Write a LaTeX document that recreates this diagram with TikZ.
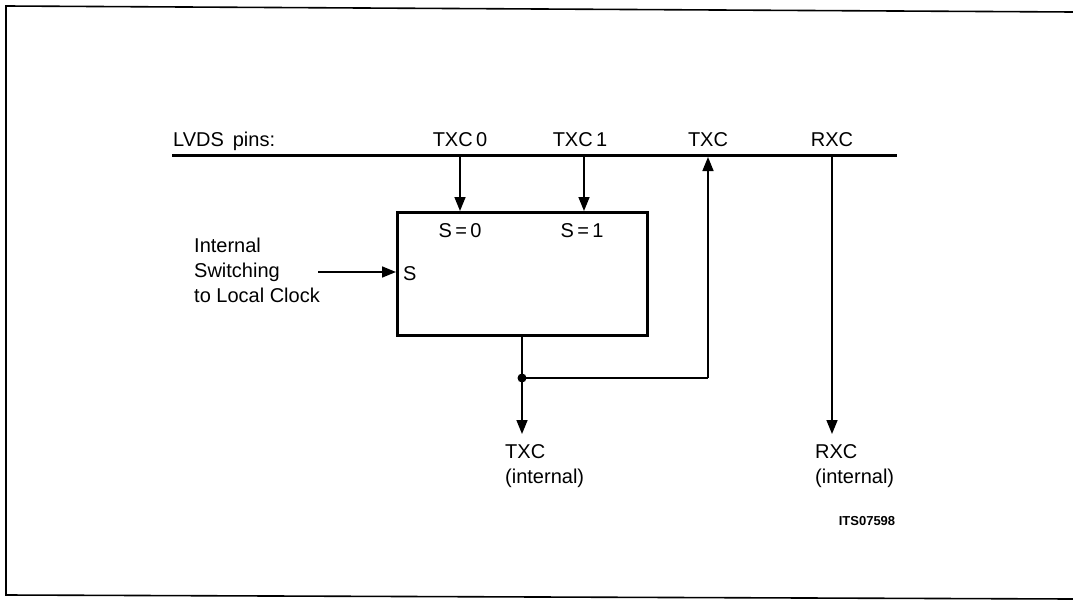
\documentclass[tikz,border=0pt]{standalone}
\usepackage{fontspec}
\setmainfont{Liberation Sans}
\usetikzlibrary{arrows.meta}
\begin{document}
\begin{tikzpicture}[x=1pt,y=-1pt,
  lbl/.style={inner sep=0pt,font=\fontsize{20}{25}\selectfont},
  thick line/.style={line width=3pt},
  sig/.style={line width=1.6pt,-{Triangle[length=14pt,width=11pt]}},
  frameline/.style={line width=1.6pt}]
\useasboundingbox (0,0) rectangle (1073,602);
% frame
\draw[frameline] (1073,12) -- (6,6) -- (6,595) -- (1073,599);
% bus
\coordinate (busL) at (172,155);
\coordinate (busR) at (897,155);
\draw[thick line] (busL) -- (busR);
\node[lbl,anchor=base west] (lvds) at (173,146) {LVDS\ \,pins:};
\node[lbl,anchor=base] (txc0) at (460,146) {TXC\,0};
\node[lbl,anchor=base] (txc1) at (580,146) {TXC\,1};
\node[lbl,anchor=base] (txc) at (708,146) {TXC};
\node[lbl,anchor=base] (rxc) at (832,146) {RXC};
% box
\node[draw,line width=3pt,minimum width=250pt,minimum height=123pt,inner sep=0pt] (box) at (522,273.5) {};
\node[lbl,anchor=base] (s0) at (460,237) {S\,=\,0};
\node[lbl,anchor=base] (s1) at (582,237) {S\,=\,1};
\node[lbl,anchor=base west] (s) at (403,280) {S};
% coordinates on bus
\coordinate (b0) at (460,155);
\coordinate (b1) at (584,155);
\coordinate (bt) at (708,155);
\coordinate (br) at (832,155);
\draw[sig] (b0) -- (460,211);
\draw[sig] (b1) -- (584,211);
% switching input
\node[lbl,anchor=base west,align=left] (sw) at (194,302) {Internal\\Switching\\to Local Clock};
\coordinate (swin) at (318,272);
\draw[sig] (swin) -- (396,272);
% output
\coordinate (out) at (522,335);
\coordinate (dot) at (522,378);
\coordinate (corner) at (708,378);
\draw[line width=1.6pt] (out) -- (dot) -- (corner);
\fill (dot) circle (4.5pt);
\draw[sig] (corner) -- (708,157);
\coordinate (txcend) at (522,434);
\draw[sig] (dot) -- (txcend);
\node[lbl,anchor=base west,align=left] (txci) at (505,483) {TXC\\(internal)};
% RXC
\coordinate (rxcend) at (832,434);
\draw[sig] (br) -- (rxcend);
\node[lbl,anchor=base west,align=left] (rxci) at (815,483) {RXC\\(internal)};
\node[inner sep=0pt,font=\bfseries\fontsize{13}{15}\selectfont] (its) at (867,521) {ITS07598};
\end{tikzpicture}
\end{document}
